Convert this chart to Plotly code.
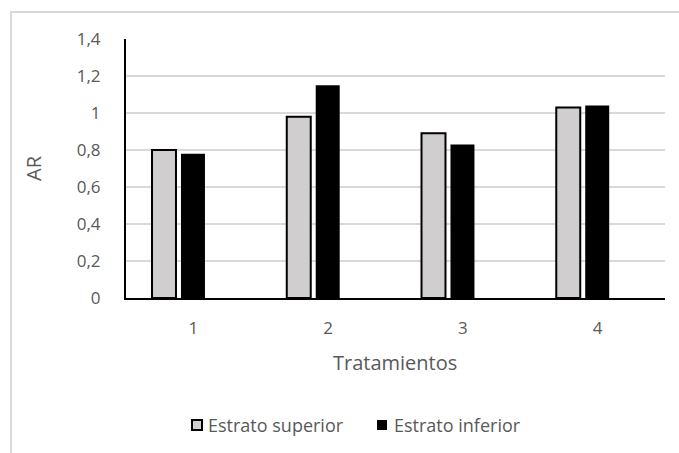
import plotly.graph_objects as go

# Data
tratamientos = ["1", "2", "3", "4"]
estrato_superior = [0.80, 0.98, 0.89, 1.03]
estrato_inferior = [0.78, 1.15, 0.83, 1.04]
y_ticks = [0, 0.2, 0.4, 0.6, 0.8, 1.0, 1.2, 1.4]
series_names = ["Estrato superior", "Estrato inferior"]

W, H = 679, 453
L, R, T, B = 126, 14, 39, 155
pw, ph = W - L - R, H - T - B

def px(x):
    return (x - L) / pw

def py(y):
    return (H - B - y) / ph

text_color = "#595959"
font_family = "Open Sans, Noto Sans, sans-serif"
gray_fill = "#d0cece"

# Bars sit in the left two slots of a three-slot group per category
bar_width = 0.178
fig = go.Figure()
fig.add_trace(go.Bar(
    x=tratamientos, y=estrato_superior, name=series_names[0],
    width=bar_width, offset=-0.307,
    marker=dict(color=gray_fill, line=dict(color="#000000", width=2)),
))
fig.add_trace(go.Bar(
    x=tratamientos, y=estrato_inferior, name=series_names[1],
    width=bar_width, offset=-0.092,
    marker=dict(color="#000000", line=dict(color="#000000", width=0)),
))

# Outer chart frame (left and top edges)
fig.add_shape(
    type="path", xref="paper", yref="paper",
    path=f"M {px(11)} {py(460)} L {px(11)} {py(12)} L {px(690)} {py(12)}",
    line=dict(color="#d9d9d9", width=2),
)

# Legend: swatch followed closely by its label
legend_y = 425
for x0, fill, lw, name, tx in [
    (192, gray_fill, 2, series_names[0], 206),
    (377, "#000000", 0, series_names[1], 392),
]:
    fig.add_shape(
        type="rect", xref="paper", yref="paper",
        x0=px(x0), x1=px(x0 + 10), y0=py(legend_y - 5), y1=py(legend_y + 5),
        fillcolor=fill, line=dict(color="#000000", width=lw),
    )
    fig.add_annotation(
        x=px(tx), y=py(legend_y), xref="paper", yref="paper",
        text=name, showarrow=False, xanchor="left", yanchor="middle",
        font=dict(size=18, color=text_color),
    )

# Axis titles
fig.add_annotation(
    x=px(395), y=py(362), xref="paper", yref="paper", text="Tratamientos",
    showarrow=False, xanchor="center", yanchor="middle",
    font=dict(size=20, color=text_color),
)
fig.add_annotation(
    x=px(33), y=py(168), xref="paper", yref="paper", text="AR",
    showarrow=False, xanchor="center", yanchor="middle", textangle=-90,
    font=dict(size=20, color=text_color),
)

fig.update_layout(
    width=W, height=H,
    margin=dict(l=L, r=R, t=T, b=B, pad=0),
    paper_bgcolor="white", plot_bgcolor="white",
    separators=",.",
    barmode="overlay",
    font=dict(family=font_family, color=text_color, size=17),
    showlegend=False,
    xaxis=dict(
        showline=True, linecolor="#000000", linewidth=2,
        showgrid=False, ticks="outside", ticklen=14, tickcolor="rgba(0,0,0,0)",
        tickfont=dict(size=17, color=text_color),
    ),
    yaxis=dict(
        range=[0, 1.4], tickvals=y_ticks,
        showline=True, linecolor="#000000", linewidth=2,
        showgrid=True, gridcolor="#d9d9d9", gridwidth=2,
        zeroline=False,
        ticks="outside", ticklen=20, tickcolor="rgba(0,0,0,0)",
        tickfont=dict(size=17, color=text_color),
    ),
)

fig.write_html("out.html")
